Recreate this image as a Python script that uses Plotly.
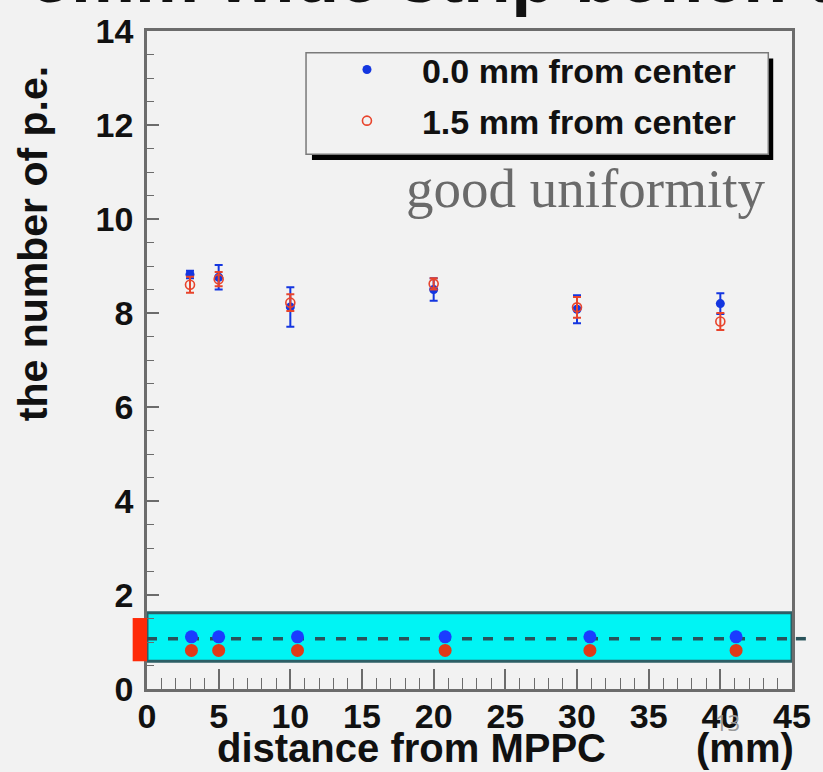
import plotly.graph_objects as go

# Measured photo-electron yield along the strip
distance_mm = [3, 5, 10, 20, 30, 40]
pe_center = [8.82, 8.76, 8.13, 8.50, 8.08, 8.20]
pe_center_err = [0.08, 0.26, 0.42, 0.24, 0.30, 0.22]
pe_offset = [8.60, 8.72, 8.22, 8.62, 8.12, 7.82]
pe_offset_err = [0.17, 0.15, 0.18, 0.12, 0.22, 0.18]

# Schematic of the strip: injection points seen from above
strip_x = [3.1, 5.0, 10.5, 20.8, 30.9, 41.1]
strip_center_y = [1.11, 1.11, 1.11, 1.11, 1.11, 1.11]
strip_offset_y = [0.82, 0.82, 0.82, 0.82, 0.82, 0.82]
strip_box = (0.0, 45.0, 0.59, 1.62)     # x0, x1, y0, y1
strip_axis_y = 1.07
mppc_box = (-1.0, 0.0, 0.59, 1.51)

x_ticks = [0, 5, 10, 15, 20, 25, 30, 35, 40, 45]
y_ticks = [0, 2, 4, 6, 8, 10, 12, 14]
X_RANGE = [0, 45]
Y_RANGE = [0, 14]

W, H = 823, 772
M_L, M_R, M_T, M_B = 147, 23, 21, 83
BG = "#f2f2f2"
FRAME = "#6c6c6c"
BLUE = "#1436e0"
RED = "#e8442c"
FONT = "Liberation Sans, Arial, sans-serif"
DASH = "10px,11px"
DASH_COLOR = "#29535a"


def px_x(p):
    return (p - M_L) / (W - M_L - M_R)


def px_y(p):
    return (H - M_B - p) / (H - M_T - M_B)


def dx(v):
    return (v - X_RANGE[0]) / (X_RANGE[1] - X_RANGE[0])


def dy(v):
    return (v - Y_RANGE[0]) / (Y_RANGE[1] - Y_RANGE[0])


fig = go.Figure()

fig.add_trace(go.Scatter(
    x=distance_mm, y=pe_center, mode="markers", name="0.0 mm from center",
    legendgroup="a",
    marker=dict(symbol="circle", size=9, color=BLUE),
    error_y=dict(type="data", array=pe_center_err, color=BLUE, thickness=2, width=4),
))
fig.add_trace(go.Scatter(
    x=distance_mm, y=pe_offset, mode="markers", name="1.5 mm from center",
    legendgroup="b",
    marker=dict(symbol="circle-open", size=9, color=RED, line=dict(width=1.6, color=RED)),
    error_y=dict(type="data", array=pe_offset_err, color=RED, thickness=2, width=4),
))

# strip schematic dots
fig.add_trace(go.Scatter(
    x=strip_x, y=strip_offset_y, mode="markers", showlegend=False, cliponaxis=False,
    marker=dict(symbol="circle", size=13, color="#e03a18"), hoverinfo="skip",
))
fig.add_trace(go.Scatter(
    x=strip_x, y=strip_center_y, mode="markers", showlegend=False, cliponaxis=False,
    marker=dict(symbol="circle", size=13, color="#1a3cff"), hoverinfo="skip",
))

shapes = []
# cyan strip
sx0, sx1, sy0, sy1 = strip_box
shapes.append(dict(type="rect", xref="x", yref="y", x0=sx0, x1=sx1, y0=sy0, y1=sy1,
                   fillcolor="#00f4f4", line=dict(color="#2d5f66", width=3), layer="below"))
# dashed strip axis inside the strip
shapes.append(dict(type="line", xref="x", yref="y", x0=sx0, x1=sx1,
                   y0=strip_axis_y, y1=strip_axis_y,
                   line=dict(color=DASH_COLOR, width=3.5, dash=DASH), layer="below"))
# ... and its continuation past the frame
shapes.append(dict(type="line", xref="paper", yref="paper", x0=dx(sx1) + 0.006, x1=px_x(W),
                   y0=dy(strip_axis_y), y1=dy(strip_axis_y),
                   line=dict(color=DASH_COLOR, width=3.5, dash=DASH)))
# MPPC block at the strip end
mx0, mx1, my0, my1 = mppc_box
shapes.append(dict(type="rect", xref="paper", yref="paper", x0=dx(mx0), x1=dx(mx1),
                   y0=dy(my0), y1=dy(my1), fillcolor="#ff2a08", line=dict(width=0)))

# legend frame with drop shadow
shapes.append(dict(type="rect", xref="paper", yref="paper",
                   x0=px_x(314), x1=px_x(781), y0=px_y(152), y1=px_y(49),
                   fillcolor="#000000", line=dict(width=0)))
shapes.append(dict(type="rect", xref="paper", yref="paper",
                   x0=px_x(308), x1=px_x(776), y0=px_y(146), y1=px_y(43),
                   fillcolor=BG, line=dict(color="#7a7a7a", width=1.5)))

annotations = [
    dict(text="good uniformity", xref="paper", yref="paper", x=px_x(591), y=px_y(181),
         xanchor="center", yanchor="middle", showarrow=False,
         font=dict(family="Liberation Serif, Times New Roman, serif", size=55, color="#6a6a6a")),
    dict(text="the number of p.e.", xref="paper", yref="paper", x=px_x(31), y=px_y(237),
         xanchor="center", yanchor="middle", textangle=-90, showarrow=False,
         font=dict(family=FONT, size=41, color="#111111", weight="bold")),
    dict(text="distance from MPPC", xref="paper", yref="paper", x=px_x(415), y=px_y(749),
         xanchor="center", yanchor="middle", showarrow=False,
         font=dict(family=FONT, size=40, color="#111111", weight="bold")),
    dict(text="(mm)", xref="paper", yref="paper", x=px_x(752), y=px_y(749),
         xanchor="center", yanchor="middle", showarrow=False,
         font=dict(family=FONT, size=40, color="#111111", weight="bold")),
    dict(text="13", xref="paper", yref="paper", x=px_x(735), y=px_y(722),
         xanchor="center", yanchor="middle", showarrow=False,
         font=dict(family="Open Sans, sans-serif", size=22, color="#9a9a9a")),
    dict(text="5mm wide strip bench test", xref="paper", yref="paper", x=px_x(28), y=px_y(9),
         xanchor="left", yanchor="bottom", showarrow=False,
         font=dict(family=FONT, size=72, color="#111111", weight="bold")),
]

fig.update_layout(
    width=W, height=H,
    margin=dict(l=M_L, r=M_R, t=M_T, b=M_B, pad=0),
    paper_bgcolor=BG, plot_bgcolor=BG,
    shapes=shapes, annotations=annotations,
    showlegend=True,
    legend=dict(x=px_x(314), y=px_y(31), xanchor="left", yanchor="top",
                bgcolor="rgba(0,0,0,0)", borderwidth=0,
                traceorder="grouped", tracegroupgap=4, itemwidth=100,
                font=dict(family=FONT, size=34, color="#111111", weight="bold")),
)

fig.update_xaxes(
    range=X_RANGE, tickvals=x_ticks, ticktext=[str(v) for v in x_ticks],
    showgrid=False, zeroline=False,
    showline=True, linecolor=FRAME, linewidth=2.5, mirror=True,
    ticks="inside", ticklen=20, tickwidth=1.5, tickcolor=FRAME,
    minor=dict(ticks="inside", ticklen=11, tickwidth=1.2, tickcolor=FRAME, dtick=1, showgrid=False),
    tickfont=dict(family=FONT, size=34, color="#111111", weight="bold"),
    ticklabelstandoff=-5,
)
fig.update_yaxes(
    range=Y_RANGE, tickvals=y_ticks, ticktext=[str(v) for v in y_ticks],
    showgrid=False, zeroline=False,
    showline=True, linecolor=FRAME, linewidth=2.5, mirror=True,
    ticks="inside", ticklen=12, tickwidth=1.5, tickcolor=FRAME,
    minor=dict(ticks="inside", ticklen=7, tickwidth=1.2, tickcolor=FRAME, dtick=0.5, showgrid=False),
    tickfont=dict(family=FONT, size=34, color="#111111", weight="bold"),
    ticklabelstandoff=4,
)

fig.write_html("out.html")
